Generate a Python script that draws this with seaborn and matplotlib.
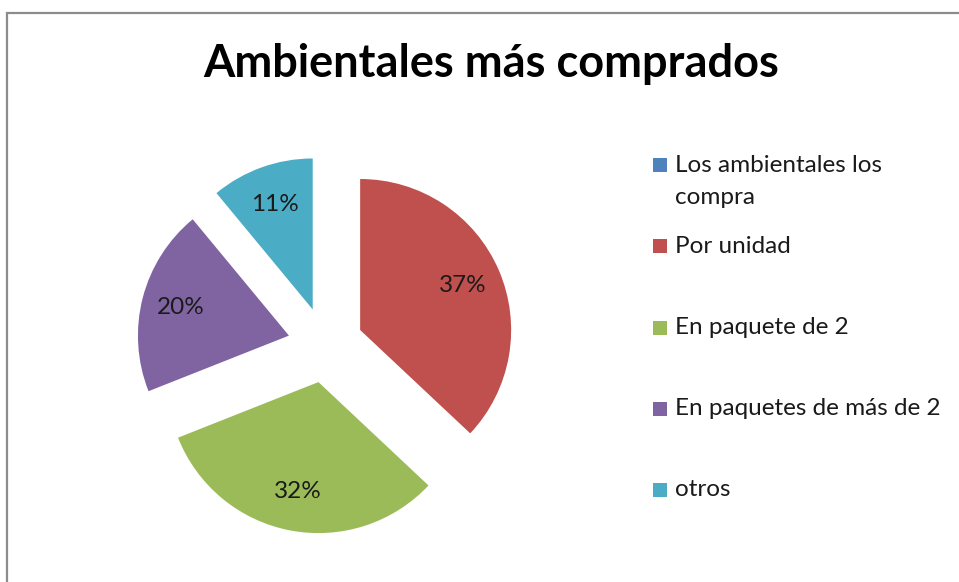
import textwrap
import matplotlib
matplotlib.use("Agg")
import matplotlib.pyplot as plt
from matplotlib.patches import Rectangle
import seaborn as sns

# Purchase format shares (percent)
categories = ["Los ambientales los compra", "Por unidad", "En paquete de 2",
              "En paquetes de más de 2", "otros"]
shares = [0, 37, 32, 20, 11]
colors = ["#4F81BD", "#C0504D", "#9BBB59", "#8064A2", "#4BACC6"]
title = "Ambientales más comprados"

sns.set_theme(style="white")
plt.rcParams["font.family"] = ["Lato", "DejaVu Sans"]

W, H = 959, 582
fig = plt.figure(figsize=(W / 100, H / 100), dpi=100)
fig.patch.set_facecolor("white")


def fx(px):
    return px / W


def fy(py):
    return 1 - py / H


# Chart frame (left and top edges visible)
fig.patches.append(Rectangle((fx(7), fy(H + 20)), fx(W + 20), (H + 7) / H,
                             transform=fig.transFigure, fill=False,
                             edgecolor="#8C8C8C", linewidth=1.6))

# Pie axes: centre at (325, 345) px, radius 151 px
R = 151
cx, cy = 325.5, 345
span = 1.5
side = 2 * span * R
ax = fig.add_axes([fx(cx - side / 2), fy(cy + side / 2), side / W, side / H])


def pct_label(p):
    return f"{p:.0f}%" if p >= 0.5 else ""


wedges, _, autotexts = ax.pie(
    shares, colors=colors, startangle=90, counterclock=False,
    explode=[0.25] * len(shares), radius=1, autopct=pct_label,
    pctdistance=0.74, wedgeprops=dict(linewidth=0),
    textprops=dict(fontsize=17.5, color="#1A1A1A"))
ax.set_xlim(-span, span)
ax.set_ylim(-span, span)
ax.set_aspect("equal")
ax.axis("off")

fig.text(fx(491.5), fy(64), title, ha="center", va="center",
         fontsize=32.5, fontweight="bold", color="black")

# Legend
sq = 14
for i, (lab, col) in enumerate(zip(categories, colors)):
    y = 165 + 81.25 * i
    fig.patches.append(Rectangle((fx(653), fy(y + sq / 2)), sq / W, sq / H,
                                 transform=fig.transFigure, facecolor=col,
                                 edgecolor="none"))
    for j, line in enumerate(textwrap.wrap(lab, width=23)):
        fig.text(fx(675), fy(y + 33 * j), line, ha="left", va="center",
                 fontsize=17.5, color="#1A1A1A")

fig.savefig("out.png", dpi=100, facecolor="white")
